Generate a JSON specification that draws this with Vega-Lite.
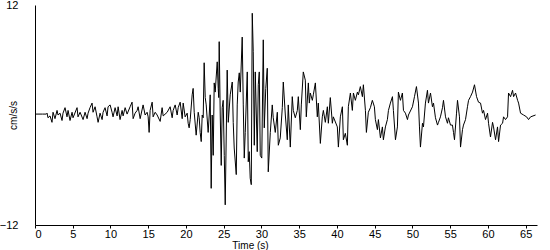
{
  "$schema": "https://vega.github.io/schema/vega-lite/v6.json",
  "width": 502,
  "height": 220,
  "autosize": {"type": "none"},
  "padding": {"left": 35, "top": 5, "right": 13, "bottom": 25},
  "background": "white",
  "config": {"view": {"stroke": null}, "font": "Liberation Sans"},
  "data": {"values": [
    {"t":0,"v":0.1},{"t":1.0,"v":0.1},{"t":1.5,"v":0.1},{"t":1.6,"v":0.2},{"t":1.72,"v":-0.3},{"t":1.99,"v":-0.1},{"t":2.25,"v":-0.8},{"t":2.39,"v":0.3},{"t":2.65,"v":-0.4},{"t":2.92,"v":0.5},{"t":3.05,"v":0},{"t":3.32,"v":0.2},{"t":3.58,"v":-0.6},{"t":3.71,"v":0.2},{"t":3.98,"v":0.8},{"t":4.24,"v":-0.2},{"t":4.38,"v":0.5},{"t":4.64,"v":-0.6},{"t":4.91,"v":0.3},{"t":5.04,"v":-0.3},{"t":5.57,"v":0.8},{"t":5.7,"v":-0.2},{"t":5.97,"v":0.3},{"t":6.37,"v":-0.5},{"t":6.63,"v":0.3},{"t":6.9,"v":-0.4},{"t":7.03,"v":0.2},{"t":7.29,"v":0.8},{"t":7.56,"v":1.3},{"t":7.69,"v":0.3},{"t":7.96,"v":0.9},{"t":8.22,"v":-0.2},{"t":8.36,"v":-0.8},{"t":8.62,"v":0.2},{"t":8.89,"v":-0.5},{"t":9.02,"v":0.3},{"t":9.28,"v":0.8},{"t":9.55,"v":-0.1},{"t":9.68,"v":0.9},{"t":9.95,"v":1.1},{"t":10.21,"v":0.3},{"t":10.34,"v":-0.2},{"t":10.61,"v":0.8},{"t":10.88,"v":-0.1},{"t":11.01,"v":0.9},{"t":11.27,"v":-0.5},{"t":11.54,"v":0.5},{"t":11.67,"v":-0.1},{"t":11.94,"v":0.8},{"t":12.2,"v":0.1},{"t":12.6,"v":0.9},{"t":12.86,"v":1.4},{"t":13.0,"v":-0.4},{"t":13.26,"v":0.2},{"t":13.53,"v":0.5},{"t":13.66,"v":0.9},{"t":13.93,"v":-0.4},{"t":14.32,"v":1.1},{"t":14.59,"v":0.0},{"t":14.85,"v":0.3},{"t":14.99,"v":-0.2},{"t":15.12,"v":-1.9},{"t":15.25,"v":0.5},{"t":15.52,"v":1.4},{"t":15.65,"v":-0.2},{"t":15.92,"v":0.3},{"t":16.18,"v":0.0},{"t":16.58,"v":-0.7},{"t":16.84,"v":0.8},{"t":16.98,"v":-0.1},{"t":17.51,"v":0.3},{"t":17.9,"v":0.9},{"t":18.17,"v":-0.3},{"t":18.3,"v":0.5},{"t":18.57,"v":1.1},{"t":18.83,"v":0.0},{"t":18.97,"v":0.8},{"t":19.23,"v":1.4},{"t":19.5,"v":-0.4},{"t":19.63,"v":1.3},{"t":19.89,"v":-0.2},{"t":20.16,"v":0.2},
    {"t":20.29,"v":-0.9},{"t":20.42,"v":-1.4},{"t":20.56,"v":-0.5},{"t":20.82,"v":2.2},{"t":20.95,"v":2.9},{"t":21.09,"v":0.3},{"t":21.35,"v":-2.2},{"t":21.62,"v":0.3},{"t":21.75,"v":-0.3},{"t":21.88,"v":-1.9},{"t":22.02,"v":-2.9},{"t":22.15,"v":0},{"t":22.28,"v":-0.3},{"t":22.41,"v":5.7},{"t":22.55,"v":1.9},{"t":22.68,"v":1.1},{"t":22.94,"v":-1.9},{"t":23.08,"v":0},{"t":23.21,"v":2.2},{"t":23.34,"v":-8.0},{"t":23.47,"v":0},{"t":23.61,"v":-4.4},{"t":23.74,"v":3.5},{"t":23.87,"v":2.5},{"t":24.14,"v":5.8},{"t":24.27,"v":2.9},{"t":24.34,"v":1.9},{"t":24.4,"v":8.0},{"t":24.54,"v":0},{"t":24.67,"v":-5.5},{"t":24.8,"v":0.8},{"t":24.93,"v":1.6},{"t":25.07,"v":-4.4},{"t":25.2,"v":-9.8},{"t":25.46,"v":4.9},{"t":25.6,"v":-0.8},{"t":25.86,"v":2.2},{"t":26.13,"v":3.6},{"t":26.26,"v":-0.8},{"t":26.39,"v":-3.6},{"t":26.66,"v":-6.5},{"t":26.79,"v":1.1},{"t":26.92,"v":3.6},{"t":27.06,"v":4.6},{"t":27.19,"v":2.5},{"t":27.45,"v":8.5},{"t":27.59,"v":1.1},{"t":27.72,"v":-4.7},{"t":27.85,"v":-1.9},{"t":28.12,"v":4.7},{"t":28.25,"v":-5.1},{"t":28.38,"v":-4.0},{"t":28.51,"v":-6.9},{"t":28.65,"v":-7.6},{"t":28.78,"v":11.1},{"t":28.91,"v":6.9},{"t":29.05,"v":-3.3},{"t":29.18,"v":4.7},{"t":29.44,"v":-4.0},{"t":29.58,"v":3.3},{"t":29.71,"v":4.7},{"t":29.84,"v":-4.4},{"t":30.04,"v":-4.7},{"t":30.24,"v":8.2},{"t":30.37,"v":-1.4},{"t":30.57,"v":2.9},{"t":30.77,"v":5.1},{"t":30.9,"v":-6.2},{"t":31.17,"v":-1.9},{"t":31.43,"v":1.1},{"t":31.56,"v":-0.3},{"t":31.83,"v":-1.9},{"t":32.1,"v":0.3},{"t":32.23,"v":-3.3},{"t":32.49,"v":-2.5},{"t":32.76,"v":0.8},{"t":32.89,"v":3.6},{"t":33.16,"v":0},{"t":33.42,"v":-2.7},{"t":33.55,"v":1.1},{"t":33.82,"v":-3.5},{"t":34.08,"v":2.0},{"t":34.22,"v":0.5},{"t":34.48,"v":-0.3},{"t":34.75,"v":0.5},{"t":34.88,"v":2.0},{"t":35.15,"v":-1.6},{"t":35.28,"v":1.1},{"t":35.54,"v":4.7},{"t":35.81,"v":3.8},{"t":35.94,"v":-0.2},{"t":36.21,"v":3.5},{"t":36.34,"v":1.3},{"t":36.47,"v":2.4},{"t":36.74,"v":1.6},{"t":36.87,"v":2.2},{"t":37.14,"v":3.5},{"t":37.4,"v":-0.2},{"t":37.53,"v":1.3},{"t":37.8,"v":-3.1},{"t":38.06,"v":-0.2},{"t":38.2,"v":0.5},{"t":38.46,"v":-0.8},{"t":38.73,"v":0.9},{"t":38.86,"v":-0.9},{"t":39.12,"v":1.9},{"t":39.39,"v":-0.9},{"t":39.52,"v":-0.2},{"t":40.05,"v":-1.3},{"t":40.19,"v":-3.5},{"t":40.45,"v":-0.2},{"t":40.72,"v":0.9},{"t":40.85,"v":-2.7},{"t":41.11,"v":-2.0},{"t":41.38,"v":-3.3},{"t":41.51,"v":0.9},{"t":41.78,"v":2.4},{"t":42.04,"v":0.5},{"t":42.18,"v":2.4},{"t":42.44,"v":1.6},{"t":42.71,"v":2.5},{"t":42.84,"v":2.2},{"t":43.1,"v":3.1},{"t":43.37,"v":2.0},{"t":43.5,"v":3.3},{"t":43.77,"v":0.5},{"t":43.9,"v":-1.9},{"t":44.16,"v":0.3},{"t":44.43,"v":0.8},{"t":44.69,"v":1.6},{"t":44.96,"v":0.9},{"t":45.09,"v":-0.5},{"t":45.36,"v":-1.6},{"t":45.49,"v":-0.5},{"t":45.76,"v":-2.5},{"t":46.02,"v":-1.3},{"t":46.15,"v":-2.7},{"t":46.42,"v":-1.3},{"t":46.68,"v":-0.5},{"t":46.82,"v":0.5},{"t":47.08,"v":1.3},{"t":47.35,"v":2.0},{"t":47.48,"v":0.5},{"t":47.75,"v":-2.7},{"t":48.01,"v":-1.3},{"t":48.14,"v":2.5},{"t":48.41,"v":1.6},{"t":48.67,"v":2.4},{"t":48.81,"v":0.5},{"t":49.07,"v":0.2},{"t":49.34,"v":-0.5},{"t":49.47,"v":0},{"t":50.0,"v":0.9},{"t":50.27,"v":2.0},{"t":50.53,"v":3.1},{"t":50.8,"v":1.3},{"t":50.93,"v":-1.3},{"t":51.06,"v":-3.5},{"t":51.33,"v":-0.9},{"t":51.46,"v":-1.3},{"t":51.72,"v":1.3},{"t":51.99,"v":2.7},{"t":52.12,"v":1.3},{"t":52.39,"v":2.4},{"t":52.65,"v":0.9},{"t":52.79,"v":1.3},{"t":53.05,"v":-0.3},{"t":53.32,"v":-1.1},{"t":53.45,"v":-0.8},{"t":53.71,"v":-0.2},{"t":53.98,"v":0.8},{"t":54.11,"v":1.6},{"t":54.38,"v":-0.2},{"t":54.64,"v":-0.9},{"t":54.77,"v":-0.3},{"t":55.04,"v":-1.1},{"t":55.3,"v":-1.1},{"t":55.44,"v":-1.9},{"t":55.57,"v":-2.7},{"t":55.84,"v":0.2},{"t":55.97,"v":1.6},{"t":56.23,"v":-0.2},{"t":56.37,"v":-3.5},{"t":56.63,"v":-1.6},{"t":56.76,"v":-1.1},{"t":57.03,"v":-0.5},{"t":57.29,"v":0.9},{"t":57.43,"v":1.6},{"t":57.69,"v":2.0},{"t":57.96,"v":2.5},{"t":58.22,"v":3.3},{"t":58.49,"v":2.0},{"t":58.75,"v":1.4},{"t":59.02,"v":1.3},{"t":59.28,"v":0.2},{"t":59.42,"v":0.5},{"t":59.68,"v":-0.5},{"t":59.95,"v":0.2},{"t":60.08,"v":-0.9},{"t":60.34,"v":-2.4},{"t":60.61,"v":-0.8},{"t":60.74,"v":-1.3},{"t":61.01,"v":-2.7},{"t":61.27,"v":-1.3},{"t":61.41,"v":-2.9},{"t":61.67,"v":-1.1},{"t":61.94,"v":-0.9},{"t":62.07,"v":-0.2},{"t":62.33,"v":-0.5},{"t":62.6,"v":-0.2},{"t":62.73,"v":2.4},{"t":63.0,"v":2.0},{"t":63.26,"v":2.7},{"t":63.4,"v":2.0},{"t":63.66,"v":2.4},{"t":63.93,"v":1.6},{"t":64.06,"v":1.3},{"t":64.32,"v":0.2},{"t":64.72,"v":0},{"t":65.12,"v":-0.2},{"t":65.38,"v":-0.5},{"t":65.65,"v":-0.2},{"t":66.31,"v":0}
  ]},
  "mark": {"type": "line", "color": "black", "strokeWidth": 1, "interpolate": "linear"},
  "encoding": {
    "x": {
      "field": "t", "type": "quantitative",
      "scale": {"domain": [0, 66.5], "nice": false, "zero": false},
      "axis": {
        "title": "Time (s)", "titleFont": "Liberation Sans", "titleFontSize": 10, "titleFontWeight": "normal", "titleColor": "black",
        "titleX": 215, "titleY": 20, "titleBaseline": "middle",
        "values": [0,5,10,15,20,25,30,35,40,45,50,55,60,65],
        "labelFont": "Liberation Sans", "labelFontSize": 11, "labelColor": "black",
        "tickSize": 3, "tickColor": "black", "labelPadding": 0,
        "domainColor": "black", "grid": false
      }
    },
    "y": {
      "field": "v", "type": "quantitative",
      "scale": {"domain": [-12, 12], "nice": false},
      "axis": {
        "title": "cm/s/s", "titleFont": "Liberation Sans", "titleFontSize": 10, "titleFontWeight": "normal", "titleColor": "black",
        "titleX": -22, "titleY": 110, "titleAngle": -90, "titleAlign": "center", "titleBaseline": "middle",
        "values": [-12, 12],
        "labelFont": "Liberation Sans", "labelFontSize": 11, "labelColor": "black",
        "ticks": false, "labelPadding": 17,
        "domainColor": "black", "grid": false
      }
    }
  }
}
